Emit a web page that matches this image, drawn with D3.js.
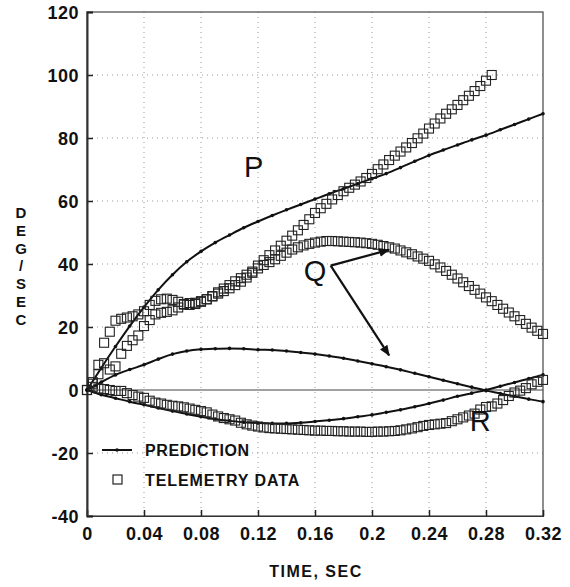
<!DOCTYPE html>
<html>
<head>
<meta charset="utf-8">
<script src="https://cdn.jsdelivr.net/npm/d3@7"></script>
<style>
  body { margin: 0; background: #fff; }
  text { font-family: "Liberation Sans", Arial, sans-serif; fill: #111; }
</style>
</head>
<body>
<svg id="chart" width="570" height="587"></svg>
<script>
// prediction curves, sampled every 0.01 s
var predTime = [0, 0.01, 0.02, 0.03, 0.04, 0.05, 0.06, 0.07, 0.08, 0.09, 0.10, 0.11, 0.12, 0.13, 0.14, 0.15, 0.16,
  0.17, 0.18, 0.19, 0.20, 0.21, 0.22, 0.23, 0.24, 0.25, 0.26, 0.27, 0.28, 0.29, 0.30, 0.31, 0.32];
var pPred = [0, 7, 13.8, 20.3, 26.3, 31.8, 36.6, 40.7, 44, 46.8, 49.2, 51.5, 53.5, 55.4, 57.2, 58.9, 60.6,
  62.3, 63.9, 65.5, 67.1, 68.7, 70.6, 72.6, 74.5, 76.2, 77.8, 79.4, 80.9, 82.6, 84.3, 86, 87.7];
var qPred = [0, 2.5, 4.8, 6.5, 8, 9.8, 11.4, 12.4, 12.9, 13.1, 13.2, 13.1, 12.8, 12.7, 12.4, 11.9, 11.4,
  10.8, 10.1, 9.2, 8.3, 7.4, 6.4, 5.3, 4.2, 3.1, 2, 0.9, -0.2, -1.1, -2, -2.9, -3.7];
var rPred = [0, -1.5, -2.6, -3.7, -4.7, -5.7, -6.7, -7.6, -8.5, -9.2, -9.8, -10.2, -10.5, -10.6, -10.6, -10.4, -10,
  -9.6, -9.1, -8.5, -7.9, -7.1, -6.3, -5.3, -4.3, -3.2, -2, -1, 0, 1.2, 2.4, 3.6, 4.8];

// telemetry, sampled every 0.004 s
var telTime = [0, 0.004, 0.008, 0.012, 0.016, 0.020, 0.024, 0.028, 0.032, 0.036, 0.040, 0.044, 0.048, 0.052,
  0.056, 0.060, 0.064, 0.068, 0.072, 0.076, 0.080, 0.084, 0.088, 0.092, 0.096, 0.100, 0.104, 0.108, 0.112,
  0.116, 0.120, 0.124, 0.128, 0.132, 0.136, 0.140, 0.144, 0.148, 0.152, 0.156, 0.160, 0.164, 0.168, 0.172,
  0.176, 0.180, 0.184, 0.188, 0.192, 0.196, 0.200, 0.204, 0.208, 0.212, 0.216, 0.220, 0.224, 0.228, 0.232,
  0.236, 0.240, 0.244, 0.248, 0.252, 0.256, 0.260, 0.264, 0.268, 0.272, 0.276, 0.280, 0.284, 0.288, 0.292,
  0.296, 0.300, 0.304, 0.308, 0.312, 0.316, 0.320];
var pData = [0, 2, 5, 8.5, 6.5, 7.5, 11.5, 14, 15.8, 17.3, 20.3, 22.2, 24, 24.5, 24.8, 25.3, 26.2, 27.1, 27.6,
  27.7, 28.2, 28.8, 29.7, 30.6, 31.4, 32.3, 33.3, 34.4, 35.7, 37.2, 39.5, 41.2, 42.8, 44.3, 45.8, 47.4, 49,
  50.7, 52.4, 54.2, 56.2, 57.7, 59.1, 60.5, 61.9, 63.1, 64.2, 65.2, 66.2, 67.3, 68.6, 70.1, 71.6, 73, 74.4,
  75.7, 77, 78.4, 79.9, 81.4, 83, 84.6, 86.2, 87.7, 89.1, 90.5, 92, 93.4, 94.9, 96.5, 98.2, 100];
var qData = [0, 2.5, 8, 15, 18.5, 22, 22.6, 23, 23.4, 24, 25, 27, 28.3, 28.8, 29, 28.6, 28, 27.3, 27, 27.3,
  28, 28.8, 29.8, 31, 32.2, 33.3, 34.5, 35.5, 36.6, 37.6, 38.6, 39.7, 40.6, 41.5, 42.6, 43.6, 44.6, 45.3,
  45.9, 46.4, 46.8, 47.1, 47.3, 47.3, 47.2, 47.1, 47, 46.9, 46.8, 46.6, 46.4, 46.1, 45.7, 45.3, 44.9, 44.3,
  43.7, 43.1, 42.4, 41.7, 41, 39.9, 38.9, 37.8, 36.6, 35.4, 34.2, 33, 31.8, 30.6, 29.4, 28.2, 27, 25.8, 24.6,
  23.4, 22.2, 21, 19.8, 18.8, 17.8];
var rData = [0, 1, 0.5, 0.3, 0, -0.3, -0.3, -1, -1.6, -2.1, -2.5, -3.4, -4, -4.3, -4.7, -5, -5.2, -5.5, -5.9,
  -6.3, -6.7, -7.1, -7.8, -8.4, -8.9, -9.3, -9.7, -10.4, -10.9, -11.3, -11.6, -11.9, -12.1, -12.2, -12.3,
  -12.4, -12.5, -12.6, -12.7, -12.8, -12.9, -12.9, -13, -13, -13.1, -13.1, -13.2, -13.2, -13.2, -13.3, -13.3,
  -13.2, -13.2, -13.1, -13, -12.8, -12.5, -12.2, -11.8, -11.4, -11.1, -10.9, -10.7, -10.5, -9.9, -9.3, -8.7,
  -8.1, -7.5, -6.2, -5.4, -5.2, -4.3, -3.2, -1.9, -0.8, -0.2, 0.6, 1.8, 2.6, 3.2];

var xTicks = [0, 0.04, 0.08, 0.12, 0.16, 0.2, 0.24, 0.28, 0.32];
var yTicks = [-40, -20, 0, 20, 40, 60, 80, 100, 120];

// curve labels and the Q pointer, in data units
var curveLabels = [
  { text: "P", t: 0.117, v: 71 },
  { text: "Q", t: 0.160, v: 38 },
  { text: "R", t: 0.276, v: -9.8 }
];
var qArrows = [
  { t0: 0.171, v0: 39.5, t1: 0.212, v1: 44.5 },
  { t0: 0.171, v0: 39.5, t1: 0.212, v1: 11 }
];

var svg = d3.select("#chart");
var plotL = 87, plotR = 543, plotT = 12, plotB = 516;

var x = d3.scaleLinear().domain([0, 0.32]).range([plotL, plotR]);
var y = d3.scaleLinear().domain([-40, 120]).range([plotB, plotT]);

// dotted grid
svg.append("g").selectAll("line")
  .data(xTicks.slice(1, -1)).enter().append("line")
  .attr("x1", function (d) { return x(d); }).attr("x2", function (d) { return x(d); })
  .attr("y1", plotT).attr("y2", plotB)
  .attr("stroke", "#999").attr("stroke-width", 1).attr("stroke-dasharray", "1,4");
svg.append("g").selectAll("line")
  .data(yTicks.slice(1, -1).filter(function (d) { return d !== 0; })).enter().append("line")
  .attr("x1", plotL).attr("x2", plotR)
  .attr("y1", function (d) { return y(d); }).attr("y2", function (d) { return y(d); })
  .attr("stroke", "#999").attr("stroke-width", 1).attr("stroke-dasharray", "1,4");

// zero line
svg.append("line")
  .attr("x1", plotL).attr("x2", plotR).attr("y1", y(0)).attr("y2", y(0))
  .attr("stroke", "#444").attr("stroke-width", 1.2);

// frame
svg.append("rect")
  .attr("x", plotL).attr("y", plotT).attr("width", plotR - plotL).attr("height", plotB - plotT)
  .attr("fill", "none").attr("stroke", "#444").attr("stroke-width", 1.2);

// axes
var xAxis = svg.append("g")
  .attr("transform", "translate(0," + plotB + ")")
  .call(d3.axisBottom(x).tickValues(xTicks).tickSize(-6).tickPadding(11)
    .tickFormat(function (d) { return String(+d.toFixed(2)); }));
var yAxis = svg.append("g")
  .attr("transform", "translate(" + plotL + ",0)")
  .call(d3.axisLeft(y).tickValues(yTicks).tickSize(-6).tickPadding(8)
    .tickFormat(function (d) { return d < 0 ? "-" + Math.abs(d) : String(d); }));
[xAxis, yAxis].forEach(function (g) {
  g.select(".domain").attr("stroke", "#333").attr("stroke-width", 2);
  g.selectAll(".tick line").attr("stroke", "#222").attr("stroke-width", 1.5);
  g.selectAll(".tick text")
    .style("font-family", "'Liberation Sans', Arial, sans-serif")
    .style("font-size", "18px").style("font-weight", "bold")
    .style("letter-spacing", "0.5px").attr("fill", "#111");
});
xAxis.select(".domain").attr("stroke-width", 1.2);
yAxis.selectAll(".tick text").attr("dy", "0.36em");

// axis titles
svg.append("text")
  .attr("x", 316).attr("y", 577).attr("text-anchor", "middle")
  .style("font-size", "16px").style("font-weight", "bold").style("letter-spacing", "1.5px")
  .text("TIME, SEC");
svg.append("g").selectAll("text")
  .data("DEG/SEC".split("")).enter().append("text")
  .attr("x", 21).attr("y", function (d, i) { return 218 + i * 17.8; })
  .attr("text-anchor", "middle")
  .style("font-size", "15px").style("font-weight", "bold")
  .text(function (d) { return d; });

// prediction lines with point dots
var line = d3.line()
  .x(function (d) { return x(d[0]); })
  .y(function (d) { return y(d[1]); })
  .curve(d3.curveMonotoneX);

[pPred, qPred, rPred].forEach(function (series) {
  var pts = predTime.map(function (t, i) { return [t, series[i]]; });
  svg.append("path").datum(pts)
    .attr("d", line).attr("fill", "none")
    .attr("stroke", "#111").attr("stroke-width", 2);
  svg.append("g").selectAll("circle")
    .data(pts).enter().append("circle")
    .attr("cx", function (d) { return x(d[0]); })
    .attr("cy", function (d) { return y(d[1]); })
    .attr("r", 1.8).attr("fill", "#111");
});

// telemetry squares
var sq = 9;
[pData, qData, rData].forEach(function (series) {
  svg.append("g").selectAll("rect")
    .data(series).enter().append("rect")
    .attr("x", function (d, i) { return x(telTime[i]) - sq / 2; })
    .attr("y", function (d) { return y(d) - sq / 2; })
    .attr("width", sq).attr("height", sq)
    .attr("fill", "none").attr("stroke", "#222").attr("stroke-width", 1.1);
});

// curve labels
svg.append("g").selectAll("text")
  .data(curveLabels).enter().append("text")
  .attr("x", function (d) { return x(d.t); })
  .attr("y", function (d) { return y(d.v); })
  .attr("dy", "0.36em").attr("text-anchor", "middle")
  .style("font-size", "29px")
  .text(function (d) { return d.text; });

// Q arrows
svg.append("defs").append("marker")
  .attr("id", "head").attr("viewBox", "0 0 10 10")
  .attr("refX", 9).attr("refY", 5)
  .attr("markerWidth", 5).attr("markerHeight", 5)
  .attr("orient", "auto")
  .append("path").attr("d", "M0,1 L10,5 L0,9 Z").attr("fill", "#111");
svg.append("g").selectAll("line")
  .data(qArrows).enter().append("line")
  .attr("x1", function (d) { return x(d.t0); })
  .attr("y1", function (d) { return y(d.v0); })
  .attr("x2", function (d) { return x(d.t1); })
  .attr("y2", function (d) { return y(d.v1); })
  .attr("stroke", "#111").attr("stroke-width", 2.2)
  .attr("marker-end", "url(#head)");

// legend
var lg = svg.append("g").attr("transform", "translate(102,450)");
lg.append("line").attr("x1", 0).attr("x2", 30).attr("y1", 0).attr("y2", 0)
  .attr("stroke", "#111").attr("stroke-width", 2);
lg.append("circle").attr("cx", 15).attr("cy", 0).attr("r", 1.8).attr("fill", "#111");
lg.append("rect").attr("x", 11).attr("y", 25).attr("width", 9).attr("height", 9)
  .attr("fill", "none").attr("stroke", "#222").attr("stroke-width", 1.2);
lg.append("text").attr("x", 43).attr("y", 6)
  .style("font-size", "16px").style("font-weight", "bold").style("letter-spacing", "0.6px")
  .text("PREDICTION");
lg.append("text").attr("x", 43).attr("y", 36)
  .style("font-size", "16px").style("font-weight", "bold").style("letter-spacing", "0.9px")
  .text("TELEMETRY DATA");
</script>
</body>
</html>
